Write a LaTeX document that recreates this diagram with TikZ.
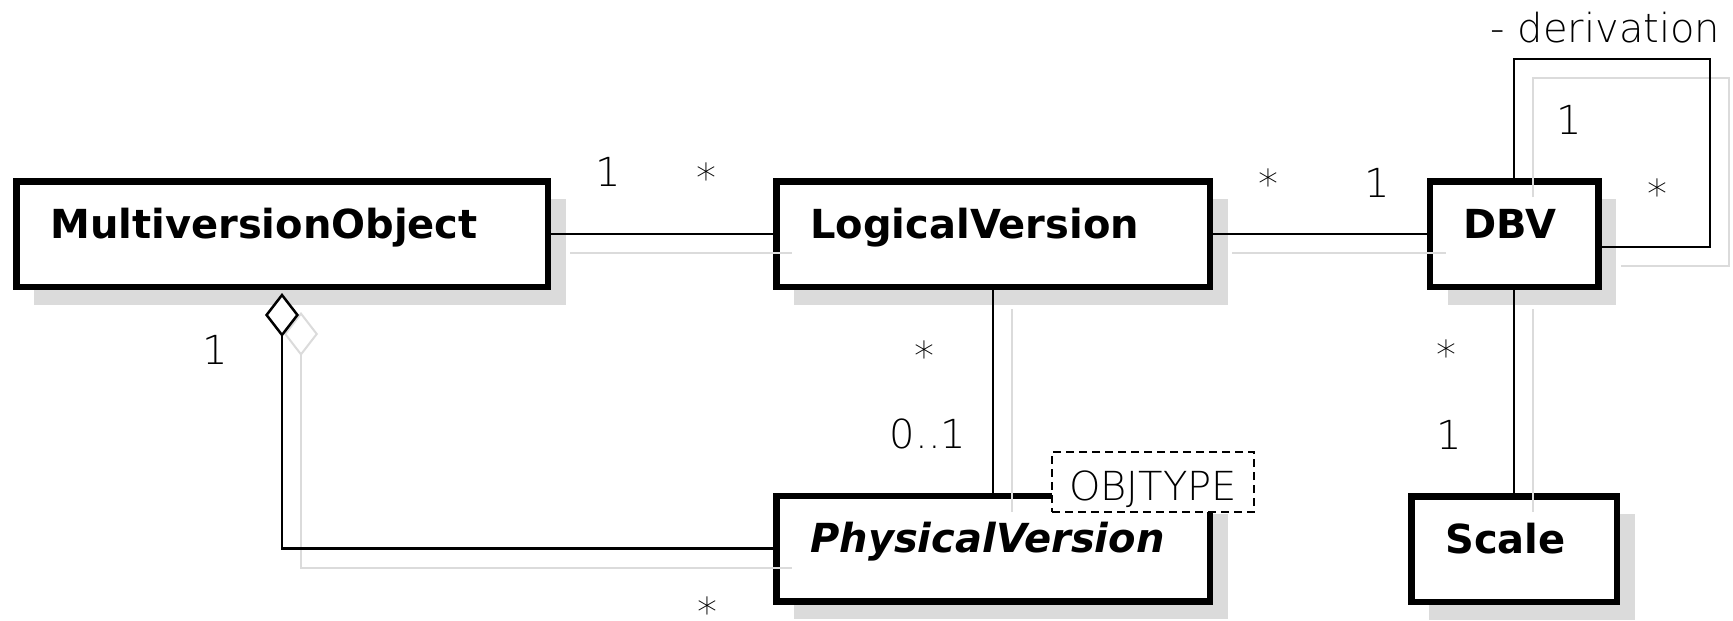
\documentclass[tikz,border=0pt]{standalone}
\usepackage{fontspec}
\setmainfont{DejaVu Sans}
\IfFontExistsTF{DejaVu Sans ExtraLight}
  {\newfontfamily\multfont{DejaVu Sans ExtraLight}}
  {\newfontfamily\multfont{DejaVu Sans}}
\usetikzlibrary{shadows,arrows.meta}
\definecolor{shadowgray}{gray}{0.86}
% asterisk lowered so that its box fits the glyph
\newcommand{\mstar}{\raisebox{-16pt}[14pt][0pt]{*}}

\begin{document}
\begin{tikzpicture}[x=1pt,y=1pt]
\tikzset{
  umlclass/.style={draw,fill=white,line width=6.5pt,inner xsep=34pt,inner ysep=0pt,
    minimum height=105.5pt,text height=30pt,text depth=22pt,align=left,
    font=\fontsize{40}{48}\selectfont\bfseries,
    drop shadow={shadow xshift=18pt,shadow yshift=-18pt,fill=shadowgray,opacity=1}},
  assoc/.style={line width=2.5pt,
    preaction={draw=shadowgray,line width=2pt,transform canvas={shift={(19pt,-19pt)}}}},
  mult/.style={inner sep=0pt,font=\fontsize{40}{48}\multfont}
}
\useasboundingbox[fill=white] (0,0) rectangle (1733,-621);

% classes
\node[umlclass,text width=463.5pt] (mo) at (282,-234) {MultiversionObject};
\node[umlclass,text width=365.5pt] (lv) at (993,-234) {LogicalVersion};
\node[umlclass,text width=100.5pt] (dbv) at (1514,-234) {DBV};
\node[umlclass,text width=365.5pt,font=\fontsize{40}{48}\selectfont\bfseries\itshape] (pv) at (993,-548.5) {PhysicalVersion};
\node[umlclass,text width=137.5pt] (scale) at (1514,-549) {Scale};

% associations
\coordinate (loop) at (1710,-59);
\draw[assoc] (mo.east) -- (lv.west);
\draw[assoc] (lv.east) -- (dbv.west);
\draw[assoc] (lv.south) -- (pv.north);
\draw[assoc] (dbv.south) -- (scale.north);
\draw[assoc] (dbv.north) |- (loop) |- ([yshift=-13pt]dbv.east);
\draw[assoc,{Diamond[fill=white,length=44pt,width=34pt]}-] ([yshift=-3pt]mo.south) |- (pv.west);

% template parameter
\node[mult,draw,fill=white,line width=2pt,dash pattern=on 8pt off 5pt,
  minimum width=202pt,minimum height=60pt,text height=37pt,text depth=0pt] (objtype) at (1153,-482) {OBJTYPE};

% multiplicities and role
\node[mult] (m1) at (608,-172) {1};
\node[mult] (m2) at (706,-169) {\mstar};
\node[mult] (m3) at (1268,-175) {\mstar};
\node[mult] (m4) at (1377,-183) {1};
\node[mult] (m5) at (1569,-120) {1};
\node[mult] (m6) at (1657,-185) {\mstar};
\node[mult] (m7) at (924,-347) {\mstar};
\node[mult] (m8) at (928,-434) {0..1};
\node[mult] (m9) at (1446,-346) {\mstar};
\node[mult] (m10) at (1449,-435) {1};
\node[mult] (m11) at (215,-350) {1};
\node[mult] (m12) at (707,-603) {\mstar};
\node[mult,anchor=base] (role) at (1605.5,-42) {- derivation};
\end{tikzpicture}
\end{document}
